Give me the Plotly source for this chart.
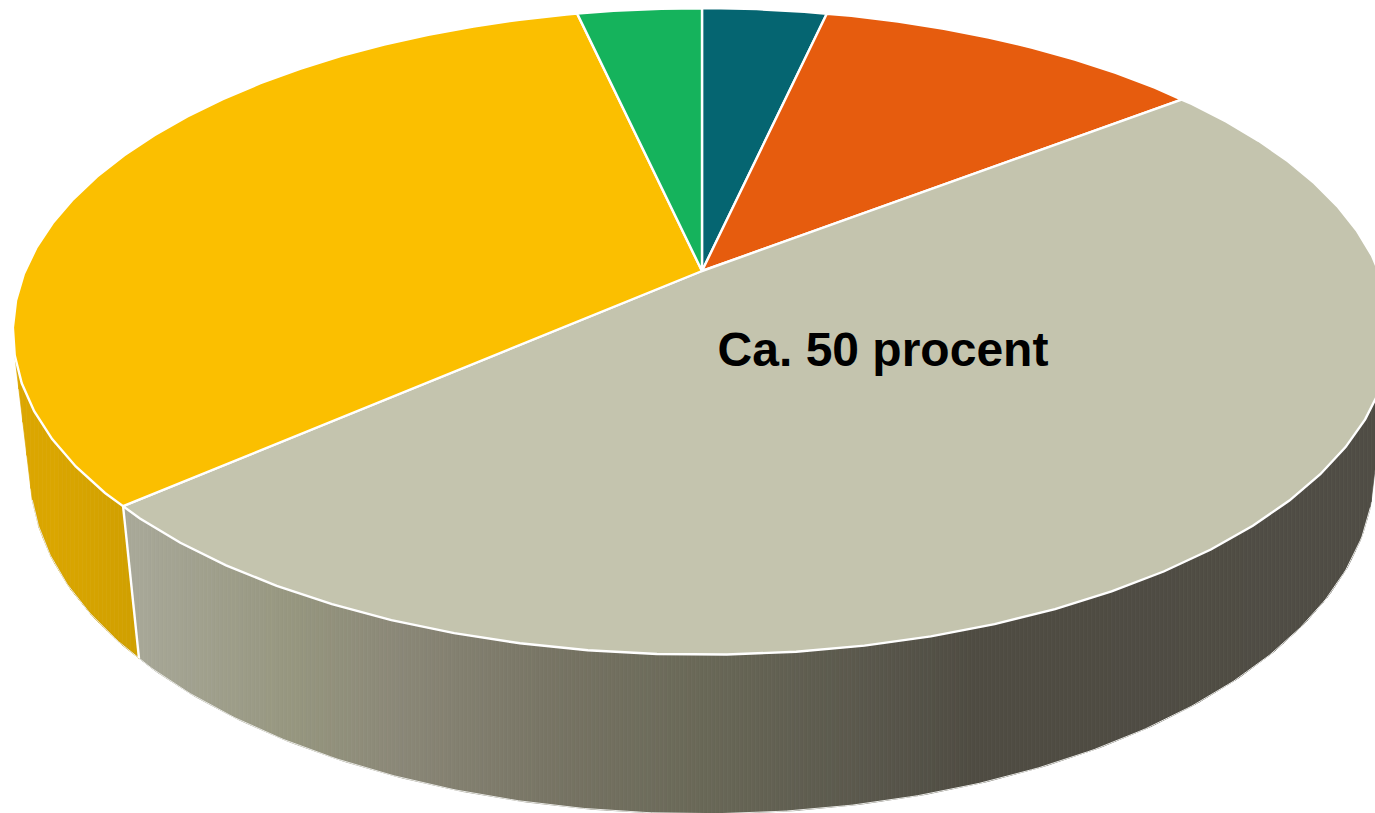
import numpy as np
import plotly.graph_objects as go

# --- data ---
categories = ["Teal", "Orange", "Beige", "Yellow", "Green"]
shares = [3.5, 11.0, 49.0, 33.0, 3.5]
label_text = "Ca. 50 procent"

# --- styles ---
top_colors = ["#056571", "#E65C0E", "#C4C4AE", "#FBBF00", "#15B35C"]
wall_ramps = {
    "Teal": ([0, 1375], ["#04515A", "#04515A"]),
    "Orange": ([0, 1375], ["#B84A0B", "#B84A0B"]),
    "Beige": ([139, 300, 400, 550, 700, 850, 980, 1375],
              ["#A8A898", "#96967F", "#8B8878", "#787565", "#6A6958", "#5C5A4E", "#4F4C43", "#514E46"]),
    "Yellow": ([17, 60, 139], ["#DCA700", "#DAA600", "#D0A000"]),
    "Green": ([0, 1375], ["#118F4A", "#118F4A"]),
}

# --- projection of the tilted, perspective disc ---
CX, CY = 702.0, 271.0
KX, KY = 677.0, 312.0
P, R, S = 0.187, 0.0247, 142.8
FACET = 4.8
FACET_OFFSET = 0.7
FINE = 0.6
STRIP = 4.0
VIEW_W, VIEW_H = 1375, 813


def chord(theta):
    f = (np.asarray(theta, dtype=float) - FACET_OFFSET) / FACET
    lo = np.floor(f)
    t = f - lo
    a0, a1 = np.radians(lo * FACET + FACET_OFFSET), np.radians((lo + 1) * FACET + FACET_OFFSET)
    return (1 - t) * np.sin(a0) + t * np.sin(a1), (1 - t) * np.cos(a0) + t * np.cos(a1)


def project(X, Z, H=0.0):
    w = 1 + P * Z + R * H
    return CX + KX * X / w, CY + (-KY * Z + S * H) / w


def rim(theta, H=0.0):
    X, Z = chord(theta)
    return project(X, Z, H)


def hex_rgb(h):
    return np.array([int(h[i:i + 2], 16) for i in (1, 3, 5)], dtype=float)


def ramp(name, x):
    xs, cs = wall_ramps[name]
    rgb = np.array([hex_rgb(c) for c in cs])
    return "rgb(%d,%d,%d)" % tuple(np.interp(x, xs, rgb[:, i]) for i in range(3))


def faces_viewer(a, b):
    if chord((a + b) / 2)[1] > 0:  # the far half of the disc never shows its wall
        return False
    xs = [rim(a)[0], rim(b)[0], rim(b, 1)[0], rim(a, 1)[0]]
    ys = [rim(a)[1], rim(b)[1], rim(b, 1)[1], rim(a, 1)[1]]
    return sum(xs[k] * ys[(k + 1) % 4] - xs[(k + 1) % 4] * ys[k] for k in range(4)) < 0


cum = np.concatenate([[0], np.cumsum(shares)]) / np.sum(shares) * 360.0
fig = go.Figure()


def poly(x, y, fill, line, width):
    fig.add_trace(go.Scatter(x=list(x), y=list(y), mode="lines", fill="toself", fillcolor=fill,
                             line=dict(color=line, width=width), hoverinfo="skip", showlegend=False))


def outline(x, y, color, width):
    fig.add_trace(go.Scatter(x=list(x), y=list(y), mode="lines", line=dict(color=color, width=width),
                             hoverinfo="skip", showlegend=False))


# side walls: vertical colour strips between an upper and a lower x-monotone chain
edge_parts = []
for i, name in enumerate(categories):
    th = np.append(np.arange(cum[i], cum[i + 1], FINE), cum[i + 1])
    spans = [(a, b) for a, b in zip(th[:-1], th[1:]) if faces_viewer(a, b)]
    if not spans:
        continue
    vis = np.array([s[0] for s in spans] + [spans[-1][1]])[::-1]  # x grows as theta falls
    # keep only the part where both rims run left to right
    while len(vis) > 2 and (rim(vis[1], 1)[0] <= rim(vis[0], 1)[0] or rim(vis[1])[0] <= rim(vis[0])[0]):
        vis = vis[1:]
    while len(vis) > 2 and (rim(vis[-1], 1)[0] <= rim(vis[-2], 1)[0] or rim(vis[-1])[0] <= rim(vis[-2])[0]):
        vis = vis[:-1]
    edge_parts.append(vis)
    ux, uy = rim(vis)
    lx, ly = rim(vis, 1)
    ux, uy, lx, ly = list(ux), list(uy), list(lx), list(ly)
    if lx[0] > ux[0]:
        lx.insert(0, ux[0]); ly.insert(0, uy[0])
    else:
        ux.insert(0, lx[0]); uy.insert(0, ly[0])
    if lx[-1] > ux[-1]:
        ux.append(lx[-1]); uy.append(ly[-1])
    else:
        lx.append(ux[-1]); ly.append(uy[-1])
    x0, x1 = max(min(ux), 0.0), min(max(ux), VIEW_W + STRIP)
    edges = np.append(np.arange(x0, x1, STRIP), x1)
    for l, r in zip(edges[:-1], edges[1:]):
        # sample inside the strip so that chain vertices are kept
        sx = np.array(sorted({l, r, *[v for v in ux + lx if l < v < r]}))
        top = np.interp(sx, ux, uy)
        bot = np.interp(sx, lx, ly)
        col = ramp(name, (l + r) / 2)
        poly(list(sx) + list(sx[::-1]) + [sx[0]], list(top) + list(bot[::-1]) + [top[0]], col, col, 0.7)

# thin outer edge of the walls
edge_th = np.sort(np.concatenate(edge_parts))
ex, ey = rim(edge_th, 1)
outline(ex, ey, "#E8E8E4", 1.0)

# white seams on the wall where slices meet
for a in cum[1:-1]:
    if edge_th[0] < a < edge_th[-1]:
        x0, y0 = rim(a)
        x1, y1 = rim(a, 1)
        outline([x0, x1], [y0, y1], "white", 2.4)

# top faces
for i, name in enumerate(categories):
    start = np.ceil((cum[i] - FACET_OFFSET) / FACET) * FACET + FACET_OFFSET
    th = np.arange(start, cum[i + 1], FACET)
    th = np.concatenate([[cum[i]], th, [cum[i + 1]]])
    x, y = rim(th)
    poly([CX] + list(x) + [CX], [CY] + list(y) + [CY], top_colors[i], "white", 2.4)

# label
fig.add_trace(go.Scatter(x=[883], y=[354], mode="text", text=[label_text], textposition="middle center",
                         textfont=dict(family="Liberation Sans", size=48, color="black", weight="bold"),
                         hoverinfo="skip", showlegend=False))

fig.update_layout(width=VIEW_W, height=VIEW_H, autosize=False, margin=dict(l=0, r=0, t=0, b=0),
                  paper_bgcolor="white", plot_bgcolor="white",
                  xaxis=dict(visible=False, range=[0, VIEW_W], fixedrange=True),
                  yaxis=dict(visible=False, range=[VIEW_H, 0], fixedrange=True))
fig.write_html("out.html", config={"displayModeBar": False},
               post_script="document.body.style.margin='0';document.body.style.overflow='hidden';")
